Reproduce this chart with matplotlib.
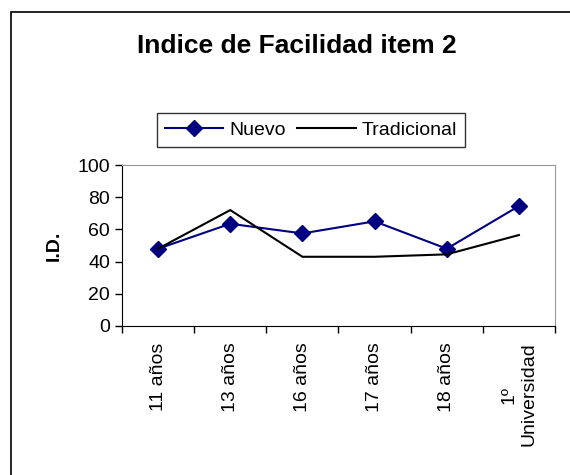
import matplotlib
matplotlib.use('Agg')
import matplotlib.pyplot as plt
import matplotlib.patches as mpatches
import numpy as np

labels = ['11 años', '13 años', '16 años', '17 años', '18 años', '1º\nUniversidad']
nuevo = [48, 63.5, 57.5, 65, 48, 74.5]
tradicional = [48, 72, 43, 43, 44.5, 56.5]

plt.rcParams['font.family'] = ['Liberation Sans', 'DejaVu Sans']

fig = plt.figure(figsize=(5.7, 4.75), dpi=100)
# outer chart frame
fig.patches.append(mpatches.Rectangle((11 / 570, -0.01), 1.0, 1 - 12 / 475 + 0.01,
                                      transform=fig.transFigure, fill=False,
                                      edgecolor='black', linewidth=1.2))

ax = fig.add_axes([122 / 570, 1 - 326 / 475, 433 / 570, 161 / 475])
x = np.arange(len(labels))
ax.plot(x, nuevo, color='#000080', marker='D', markersize=8, linewidth=1.5,
        label='Nuevo')
ax.plot(x, tradicional, color='black', linewidth=1.5, label='Tradicional')

ax.set_xlim(-0.5, len(labels) - 0.5)
ax.set_ylim(0, 100)
ax.set_yticks(np.arange(0, 101, 20))
ax.set_xticks(x)
ax.set_xticklabels(labels, rotation=90, fontsize=14, va='top', ha='center',
                   multialignment='center')
ax.set_xticks(np.arange(-0.5, len(labels), 1), minor=True)
ax.tick_params(axis='x', which='major', length=0, pad=12)
ax.tick_params(axis='x', which='minor', length=5, direction='out', width=1)
ax.tick_params(axis='y', length=5, direction='out', labelsize=14, width=1)

ax.spines['top'].set_color('#999999')
ax.spines['right'].set_color('#999999')
ax.set_ylabel('I.D.', fontsize=14, fontweight='bold', labelpad=11)

fig.text(297 / 570, 1 - 46 / 475, 'Indice de Facilidad item 2', fontsize=19,
         fontweight='bold', ha='center', va='center')

leg = fig.legend(loc='center', bbox_to_anchor=(311 / 570, 1 - 130 / 475), ncol=2,
                 fontsize=14, frameon=True, fancybox=False, handlelength=3,
                 columnspacing=0.6, handletextpad=0.3, borderpad=0.4)
leg.get_frame().set_edgecolor('black')
leg.get_frame().set_linewidth(1)

plt.savefig('out.png', dpi=100)
